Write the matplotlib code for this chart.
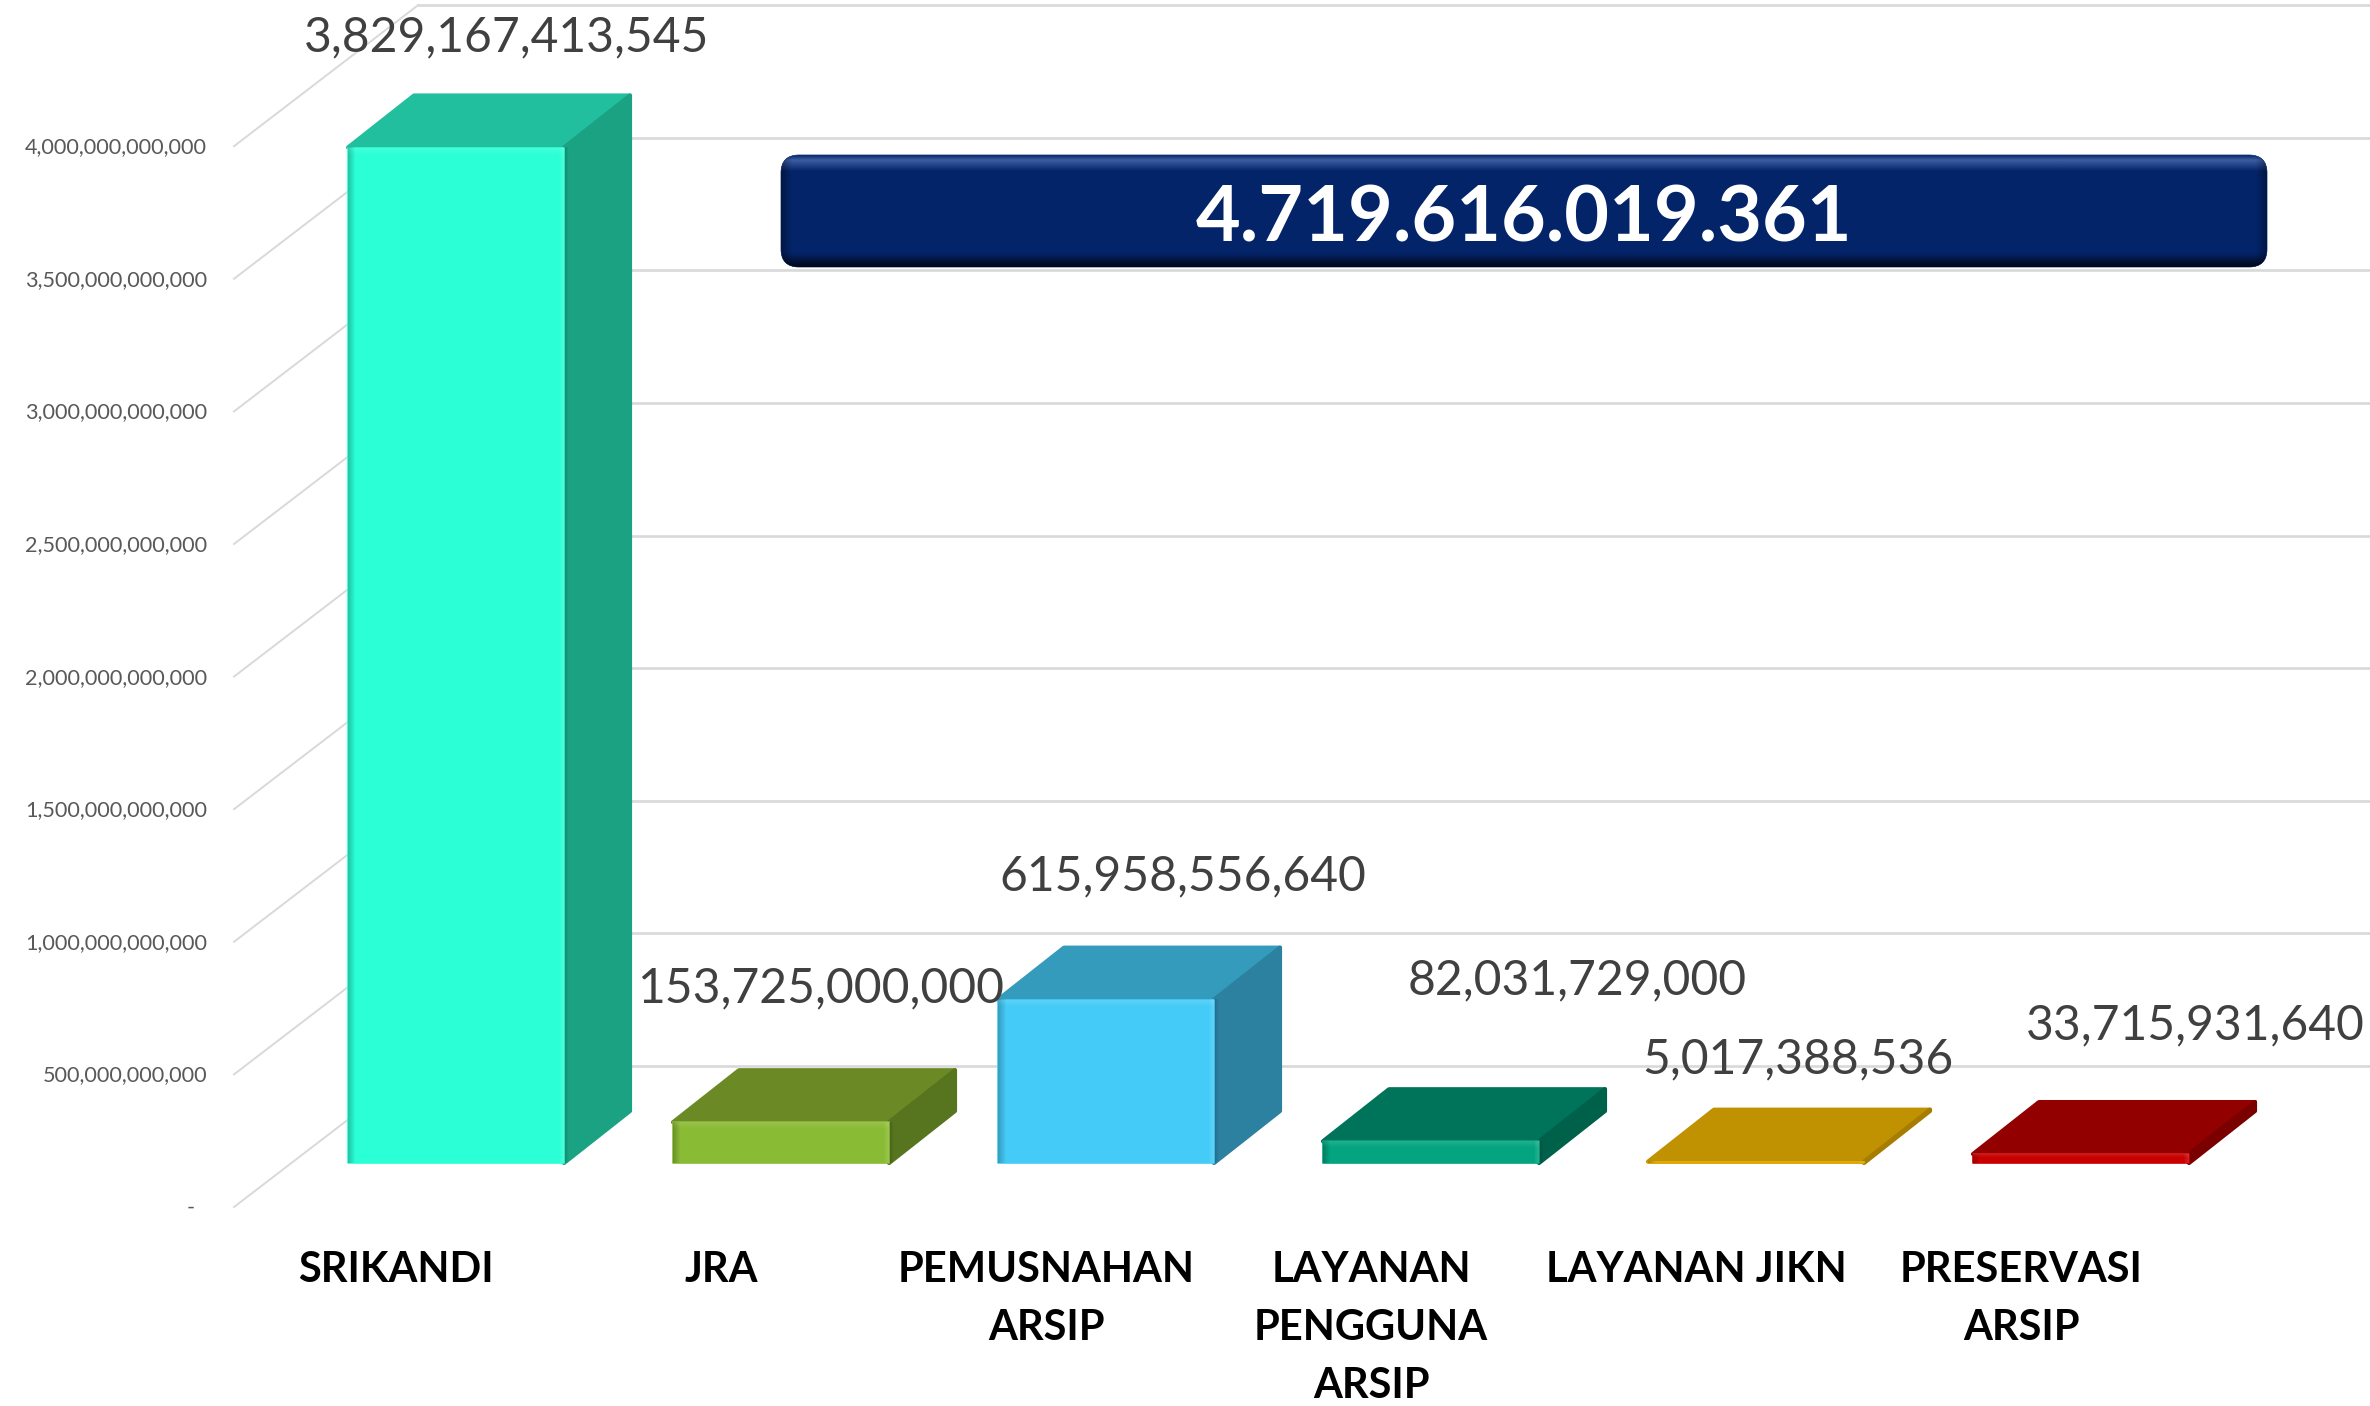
#!/usr/bin/env python3
"""Six-category pseudo-3D bar chart with total banner."""

import numpy as np
import matplotlib
matplotlib.use("Agg")
import matplotlib.pyplot as plt
from matplotlib.colors import to_rgb
from matplotlib.patches import FancyBboxPatch

plt.rcParams['font.family'] = ['Lato', 'DejaVu Sans']

categories = ["SRIKANDI", "JRA", "PEMUSNAHAN\nARSIP", "LAYANAN\nPENGGUNA\nARSIP",
              "LAYANAN JIKN", "PRESERVASI\nARSIP"]
values = [3829167413545, 153725000000, 615958556640, 82031729000,
          5017388536, 33715931640]
value_labels = ["3,829,167,413,545", "153,725,000,000", "615,958,556,640",
                "82,031,729,000", "5,017,388,536", "33,715,931,640"]
tick_values = [0, 5e11, 1e12, 1.5e12, 2e12, 2.5e12, 3e12, 3.5e12, 4e12]
tick_labels = ["-", "500,000,000,000", "1,000,000,000,000", "1,500,000,000,000",
               "2,000,000,000,000", "2,500,000,000,000", "3,000,000,000,000",
               "3,500,000,000,000", "4,000,000,000,000"]
total_label = "4.719.616.019.361"

front_colors = ["#2BFFD5", "#8ABB35", "#45CBF7", "#03A47F", "#E0A800", "#C90000"]
top_colors = ["#22BF9E", "#6B8A25", "#349BBD", "#00745A", "#C09100", "#920000"]
side_colors = ["#1AA282", "#57751F", "#2C80A0", "#00614B", "#A67D00", "#7A0000"]

# pixel geometry of the reference
W, H = 2370, 1406
PX_X = 1 / 325            # category units per pixel
PX_Y = 1e12 / 265.2       # value units per pixel
X0_PX, Y0_PX = 456, 1163  # where category 0 / value 0 sit


def X(px):
    return (px - X0_PX) * PX_X


def Y(py):
    return (Y0_PX - py) * PX_Y


def shade(ax, x0, x1, y0, y1, rgb, a0, a1, vertical=False, z=5):
    # translucent gradient strip, a0 at left/bottom, a1 at right/top
    a = np.linspace(a0, a1, 8)
    img = np.zeros((8, 1, 4) if vertical else (1, 8, 4))
    img[..., :3] = rgb
    img[..., 3] = a.reshape(-1, 1) if vertical else a.reshape(1, -1)
    return ax.imshow(img, extent=(x0, x1, y0, y1), origin='lower', aspect='auto',
                     interpolation='bilinear', zorder=z)


fig = plt.figure(figsize=(W / 100, H / 100), dpi=100)
ax = fig.add_axes([0, 0, 1, 1])
ax.set_xlim(X(0), X(W))
ax.set_ylim(Y(H), Y(0))
ax.set_autoscale_on(False)
ax.axis('off')

# walls: back gridlines and floor spokes
for v, lab in zip(tick_values, tick_labels):
    back_y = v + 97 * PX_Y
    front_y = v - 44 * PX_Y
    ax.plot([X(418), X(W)], [back_y, back_y], color="#d9d9d9", lw=1.9, zorder=1)
    ax.plot([X(234), X(418)], [front_y, back_y], color="#d9d9d9", lw=1.4, zorder=1)
    ax.text(X(195 if v == 0 else 207), front_y - 1 * PX_Y, lab, ha='right', va='center',
            fontsize=15.6, color="#595959", zorder=6)

# bars
bar_x = np.arange(len(values))
bar_w = 216 * PX_X
depth_x = 66 * PX_X
depth_y = 52 * PX_Y
ax.bar(bar_x, values, width=bar_w, color=front_colors, edgecolor=front_colors,
       linewidth=1.2, joinstyle='round', zorder=4)
for i, v in enumerate(values):
    l, r = i - bar_w / 2, i + bar_w / 2
    ax.fill([l, r, r + depth_x, l + depth_x], [v, v, v + depth_y, v + depth_y],
            fc=top_colors[i], ec=top_colors[i], lw=3, joinstyle='round', zorder=3)
    ax.fill([r, r + depth_x, r + depth_x, r], [0, depth_y, v + depth_y, v],
            fc=side_colors[i], ec=side_colors[i], lw=3, joinstyle='round', zorder=3)
    # bevel on the front face
    strip = min(7 * PX_Y, v * 0.45)
    shade(ax, l, l + 8 * PX_X, 0, v, (0, 0, 0), 0.22, 0.0)
    shade(ax, r - 6 * PX_X, r, 0, v, (1, 1, 1), 0.0, 0.14)
    shade(ax, l, r, v - strip, v, (1, 1, 1), 0.0, 0.12, vertical=True)
    if v > 5e10:
        # side face goes a little darker next to the front
        shade(ax, r, r + 5 * PX_X, 0, v, (0, 0, 0), 0.18, 0.0, z=3.5)

# data labels, placed freely above the bars as in the source slide
label_px = [(507, 37), (821, 988), (1183, 876), (1577, 980), (1798, 1059), (2195, 1025)]
for lab, (px, py) in zip(value_labels, label_px):
    ax.text(X(px), Y(py), lab, ha='center', va='center', fontsize=34.6,
            color="#404040", zorder=7)

# category labels
for i, cat in enumerate(categories):
    ax.text(i - 60 * PX_X, Y(1251), cat, ha='center', va='top', fontsize=30,
            fontweight='bold', color="black", linespacing=1.65, zorder=6)

# total banner
bx0, bx1, by0, by1 = X(781), X(2267), Y(267), Y(155)
box = FancyBboxPatch((bx0, by0), bx1 - bx0, by1 - by0,
                     boxstyle=f"round,pad=0,rounding_size={18 * PX_X}",
                     mutation_aspect=PX_Y / PX_X, fc="#04246A", ec="#04246A",
                     lw=0.5, zorder=8)
ax.add_patch(box)
navy = to_rgb("#3A5A9E")
top_band = shade(ax, bx0, bx1, Y(172), Y(160), navy, 0.0, 1.0, vertical=True, z=9)
top_cap = shade(ax, bx0, bx1, Y(160), by1, navy, 1.0, 0.1, vertical=True, z=9)
bot_band = shade(ax, bx0, bx1, by0, Y(252), (0, 0, 0), 0.75, 0.0, vertical=True, z=9)
left_band = shade(ax, bx0, bx0 + 12 * PX_X, by0, by1, (0, 0, 0), 0.35, 0.0, z=9)
right_band = shade(ax, bx1 - 12 * PX_X, bx1, by0, by1, (0, 0, 0), 0.0, 0.35, z=9)
for im in (top_band, top_cap, bot_band, left_band, right_band):
    im.set_clip_path(box)
ax.text(X(1524), Y(219), total_label, ha='center', va='center', fontsize=55.6,
        fontweight='bold', color="white", zorder=10)

fig.savefig("out.png", dpi=100)
